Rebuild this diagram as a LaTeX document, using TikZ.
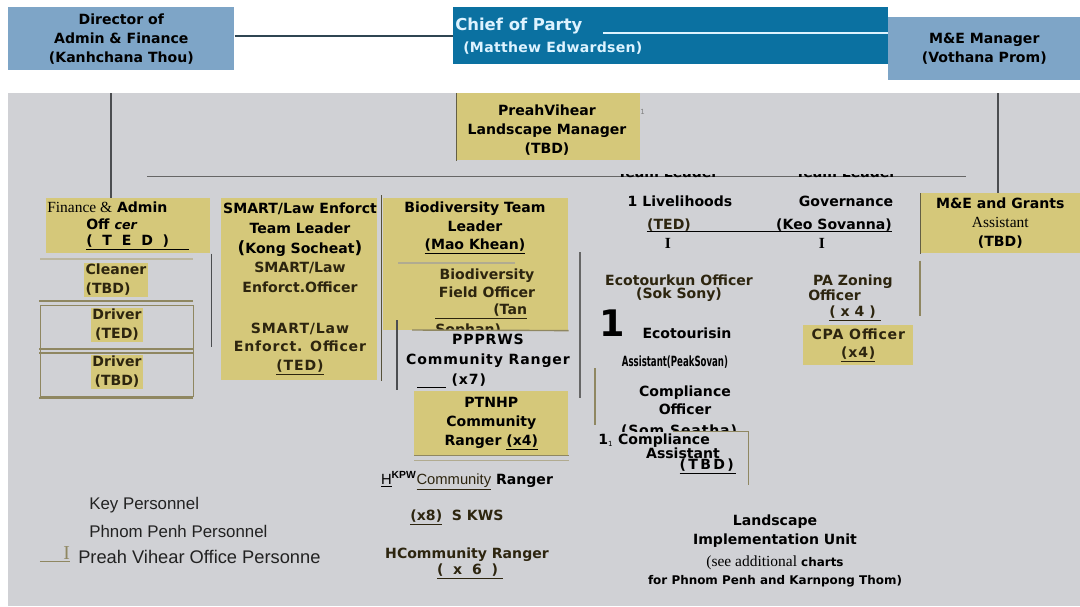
\documentclass[tikz,border=0pt]{standalone}
\usepackage{fontspec}
\setmainfont{DejaVu Sans}
\newfontfamily\timesfont{Liberation Serif}
\newfontfamily\arialfont{Liberation Sans}
\usepackage{graphicx}
\usetikzlibrary{positioning}
\definecolor{steel}{HTML}{7EA5C7}
\definecolor{partyblue}{HTML}{0B71A1}
\definecolor{partytext}{HTML}{DDF3FF}
\definecolor{gold}{HTML}{D5C87A}
\definecolor{panel}{HTML}{D0D1D5}
\definecolor{wiregray}{HTML}{4B4D50}
\definecolor{slate}{HTML}{2F4552}
\definecolor{tan}{HTML}{8F8761}
\definecolor{ink}{HTML}{2D250F}
\definecolor{legendink}{HTML}{222222}
\newcommand\orgfont{\fontsize{10}{13.5}\selectfont\bfseries}
\newcommand\spacedfont{\fontsize{10}{13}\selectfont\bfseries\addfontfeature{LetterSpace=6}}
\newcommand\legendfont{\arialfont\fontsize{12}{14}\selectfont}

\begin{document}
\begin{tikzpicture}[
  x=0.025cm,y=-0.025cm,
  every node/.style={inner sep=0pt,align=center,font=\orgfont},
  bluebox/.style={anchor=north west,fill=steel},
  goldbox/.style={anchor=north west,fill=gold},
  patch/.style={fill=gold,text=ink,inner sep=1pt},
  wire/.style={draw=wiregray,line width=.8pt},
  tanrule/.style={draw=tan,line width=1pt},
  keylabel/.style={anchor=west,font=\legendfont,text=legendink}
]
  \useasboundingbox (0,0) rectangle (1080,606);
  \fill[panel] (8,93) rectangle (1080,606);

  \node[bluebox,minimum width=5.65cm,minimum height=1.575cm] (director) at (8,7) {Director of\\Admin \& Finance\\(Kanhchana Thou)};
  \node[anchor=north west,fill=partyblue,minimum width=10.875cm,minimum height=1.425cm] (chief) at (453,7) {};
  \node[anchor=west,text=partytext,font=\fontsize{11.7}{14}\selectfont\bfseries] (chieftitle) at (455,26) {Chief of Party};
  \node[anchor=west,text=partytext,font=\fontsize{10}{12}\selectfont\bfseries\addfontfeature{LetterSpace=2}] (chiefname) at (463,48) {(Matthew Edwardsen)};
  \coordinate (partyrule) at (603,33);
  \draw[partytext,line width=.8pt] (partyrule) -- (partyrule -| chief.east);
  \node[bluebox,minimum width=4.8cm,minimum height=1.575cm] (mne) at (888,17) {M\&E Manager\\(Vothana Prom)};
  \draw[slate,line width=1.3pt] (director.east |- chief.west) -- (chief.west);

  \node[goldbox,minimum width=4.6cm,minimum height=1.675cm] (landscape) at (456,93) {};
  \node (landscapetext) at (547,130) {PreahVihear\\Landscape Manager\\(TBD)};
  \draw[tan!70!black] (landscape.north west) -- (landscape.south west);
  \node[anchor=west,text=gray,font=\tiny] (landscapemark) at (640,112) {1};

  \coordinate (teamleft) at (147,176);
  \coordinate (teamright) at (966,176);
  \draw[gray!80!black,line width=.7pt] (teamleft) -- (teamright);
  \begin{scope}
    \clip (600,174) rectangle (960,180);
    \node (livehead) at (668,172) {Team Leader};
    \node (govhead) at (846,172) {Team Leader};
  \end{scope}

  \node[goldbox,minimum width=4.1cm,minimum height=1.375cm] (finance) at (46,198) {};
  \node[anchor=west] (finline) at (47,207) {{\timesfont\mdseries\fontsize{11}{12}\selectfont Finance \&} Admin};
  \node[anchor=west] (finoff) at (86,224) {Off {\itshape\small cer}};
  \node[anchor=west] (finted) at (86,242) {\underline{(\ \ T\ \ E\ \ D\ \ )\ \ \ \ }};
  \coordinate (admintop) at (111,93);
  \draw[wire] (admintop) -- (admintop |- finance.north);
  \draw[wire] ([xshift=0.025cm]finance.south east) -- ++(0,93);

  \draw[tanrule,draw=tan!60] (40,259) -- (193,259);
  \draw[tanrule] (39,301) -- (193,301) (39,349) -- (193,349) (39,353) -- (193,353) (39,398) -- (193,398);
  \draw[tan,line width=.6pt] (40,305) rectangle (193,396);
  \node[patch,align=left] (cleaner) at (116,280) {Cleaner\\(TBD)};
  \node[patch] (drivera) at (117,325) {Driver\\(TED)};
  \node[patch] (driverb) at (117,372) {Driver\\(TBD)};

  \node[goldbox,minimum width=3.9cm,minimum height=4.55cm] (smart) at (221,198) {};
  \node[font=\fontsize{10}{14}\selectfont\bfseries] (smartlead) at (300,248) {SMART/Law Enforct\\Team Leader\\\smash{\large(}Kong Socheat\smash{\large)}\\\textcolor{ink}{SMART/Law}\\\textcolor{ink}{Enforct.Officer}};
  \node[text=ink,font=\spacedfont] (smartofficer) at (300,349) {SMART/Law\\Enforct. Officer\\\underline{(TED)}};
  \draw[tanrule,draw=tan!60!black] ([xshift=0.1cm,yshift=0.075cm]smart.north east) -- ([xshift=0.1cm]smart.south east);

  \node[goldbox,minimum width=4.625cm,minimum height=3.3cm] (bio) at (383,198) {};
  \node[font=\fontsize{10}{13}\selectfont\bfseries] (biolead) at (475,228) {Biodiversity Team\\Leader\\\underline{(Mao Khean)}};
  \draw[tanrule,draw=tan!70] (398,263) -- (515,263);
  \node[text=ink,font=\fontsize{10}{12.8}\selectfont\bfseries] (biofield) at (487,283) {Biodiversity\\Field Officer};
  \node[anchor=west,text=ink] (biotan) at (435,311) {\underline{\hspace{1.45cm}(Tan}};
  \begin{scope}
    \clip (383,318) rectangle (568,329);
    \node[anchor=west,text=ink] (biosophan) at (435,331) {Sophan)};
  \end{scope}
  \draw[tanrule] (412,330) -- (bio.south east);
  \draw[wire] (397,320) -- (397,390);

  \node[font=\fontsize{10}{14}\selectfont\bfseries\addfontfeature{LetterSpace=6}] (pprws) at (488,351) {PPPRWS\\Community Ranger};
  \node[anchor=west,font=\spacedfont] (pprwscount) at (417,381) {\underline{\ \ \ \ \ }\ (x7)};

  \node[goldbox,minimum width=3.85cm,minimum height=1.6cm] (ptnhp) at (414,391) {PTNHP\\Community\\Ranger \underline{(x4)}};
  \draw[tanrule] (ptnhp.south west) -- (ptnhp.south east);
  \draw[tanrule,draw=tan!70] ([yshift=-0.12cm]ptnhp.south west) -- ([yshift=-0.12cm]ptnhp.south east);
  \draw[wire,draw=gray!80!black] (580,252) -- (580,398);

  \node (hkpw) at (467,481) {{\arialfont\mdseries\fontsize{10.5}{12}\selectfont\underline{H}\textsuperscript{\bfseries KPW}\textcolor{ink}{\underline{Community}}} Ranger};
  \node[text=ink] (skws) at (457,517) {\underline{(x8)}\ \ S KWS};
  \node[text=ink] (hcomm) at (467,555) {HCommunity Ranger};
  \node[text=ink] (hcount) at (470,571) {\underline{(\ \ x\ \ 6\ \ )\ }};

  \node[keylabel] (keylegend) at (89,505) {Key Personnel};
  \node[keylabel] (pplegend) at (89,531) {Phnom Penh Personnel};
  \node[keylabel,text=tan,font=\timesfont\fontsize{14}{14}\selectfont] (pvmark) at (63,553) {I};
  \node[keylabel,font=\arialfont\fontsize{13}{14}\selectfont] (pvlegend) at (78,557) {Preah Vihear Office Personne};
  \draw[tan,line width=1pt] ([xshift=-0.575cm,yshift=-0.05cm]pvmark.south west) -- ([yshift=-0.05cm]pvmark.south east);

  \node (livelihoods) at (680,201) {1 Livelihoods};
  \node (governance) at (846,201) {Governance};
  \node[text=ink] (liveted) at (669,225) {(TED)};
  \node (keo) at (834,225) {(Keo Sovanna)};
  \draw[line width=.8pt] (liveted.south west) -- (keo.south east);
  \node[font=\timesfont\bfseries\fontsize{11}{12}\selectfont] (livemark) at (668,243) {I};
  \node[font=\timesfont\bfseries\fontsize{11}{12}\selectfont] (govmark) at (822,243) {I};

  \node[text=ink,font=\fontsize{10}{9}\selectfont\bfseries] (ecoofficer) at (679,288) {Ecotourkun Officer\\(Sok Sony)};
  \node[font=\fontsize{26}{26}\selectfont\bfseries] (ecobig) at (612,323) {1};
  \node (ecoassist) at (687,333) {Ecotourisin};
  \node (peak) at (675,362) {\resizebox{2.65cm}{\height}{Assistant(PeakSovan)}};
  \draw[tan,line width=.8pt] (595,368) -- (595,425);
  \node[font=\fontsize{10}{12.8}\selectfont\bfseries] (complianceofficer) at (685,400) {Compliance\\Officer};
  \begin{scope}
    \clip (600,418) rectangle (760,431);
    \node[font=\spacedfont] (somseatha) at (679,431) {(Som Seatha)};
  \end{scope}
  \coordinate (assistcorner) at (748,431);
  \draw[tan,line width=.7pt] (673,431) -- (assistcorner) -- ++(0,54);
  \node[anchor=west] (complianceassist) at (598,441) {1\textsubscript{\mdseries\tiny 1} Compliance};
  \node (assistant) at (683,453) {Assistant};
  \node[font=\spacedfont] (assistted) at (708,466) {\underline{(\,T\,B\,D\,)\,}};

  \node[anchor=west,align=left,text=ink,font=\fontsize{10}{9}\selectfont\bfseries] (pazoning) at (808,288) {\ PA Zoning\\Officer};
  \node[text=ink] (pacount) at (855,313) {\underline{(\ x\ 4\ )\ }};
  \node[goldbox,minimum width=2.75cm,minimum height=1cm,text=ink,font=\spacedfont] (cpa) at (803,325) {CPA Officer\\\underline{(x4)}};

  \node[goldbox,minimum width=4cm,minimum height=1.5cm] (megrants) at (920,193) {M\&E and Grants\\{\timesfont\mdseries\fontsize{11}{12}\selectfont Assistant}\\(TBD)};
  \draw[tan!70!black] (megrants.north west) -- (megrants.south west);
  \draw[tan,line width=.8pt] ([yshift=-0.175cm]megrants.south west) -- ++(0,55);
  \coordinate (metop) at (998,93);
  \draw[wire] (metop) -- (metop |- megrants.north);

  \node (liu) at (775,531) {Landscape\\Implementation Unit};
  \node[font=\fontsize{8.5}{12.8}\selectfont\bfseries] (liunote) at (775,571) {{\timesfont\mdseries\fontsize{11}{12.8}\selectfont(see additional} charts\\for Phnom Penh and Karnpong Thom)};
\end{tikzpicture}
\end{document}
